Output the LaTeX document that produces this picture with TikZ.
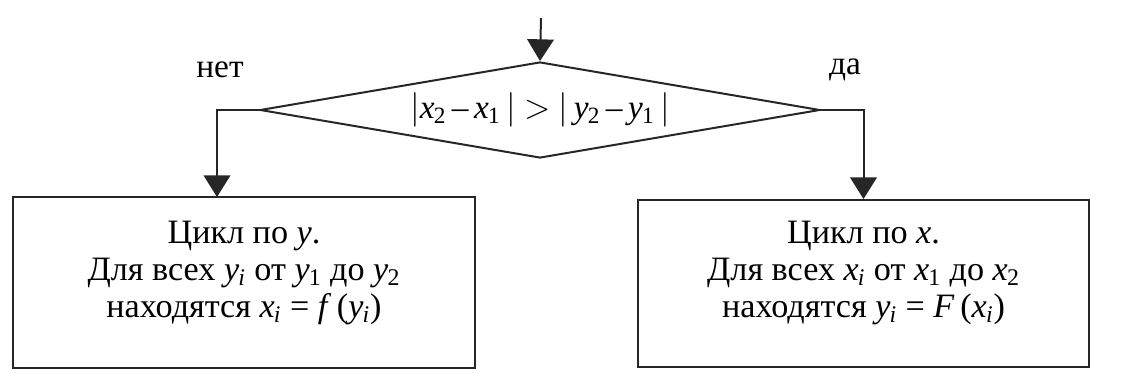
\documentclass[tikz,border=0pt]{standalone}
\usepackage{fontspec}
\setmainfont{Liberation Serif}
\usetikzlibrary{shapes.geometric,arrows.meta}
\newcommand{\vv}[2]{\textit{#1}\textsubscript{\kern-0.5pt#2}}
\begin{document}
\begin{tikzpicture}[x=0.6pt,y=-0.6pt,
  line width=1.2pt, draw=black!85,
  arr/.style={-{Triangle[width=16pt,length=13pt]}},
  box/.style={draw, rectangle, inner sep=0pt},
  txt/.style={align=center, font=\fontsize{20.5}{22}\selectfont, inner sep=0pt},
  dec/.style={draw, diamond, aspect=5.8, inner sep=0pt, minimum width=336pt, minimum height=57.6pt, font=\fontsize{20}{22}\selectfont},
  lbl/.style={font=\fontsize{20}{22}\selectfont}]
\useasboundingbox (0,0) rectangle (1136,379);
\node[dec] (d) at (540,110) {$|$\vv{x}{2}\,--\,\vv{x}{1}\,$|$ $>$ $|$\,\vv{y}{2}\,--\,\vv{y}{1}\,$|$};
\node[box, minimum width=277.2pt, minimum height=102.6pt] (lb) at (244,282.5) {};
\node[box, minimum width=270.6pt, minimum height=100.2pt] (rb) at (863.5,283.5) {};
\node[txt] (lbt) at (244,273)
  {Цикл по \textit{y}.\\Для всех \vv{y}{\itshape i} от \vv{y}{1} до \vv{y}{2}\\находятся \vv{x}{\itshape i} = \textit{f}\,(\vv{y}{\itshape i})};
\node[txt] (rbt) at (863.5,273)
  {Цикл по \textit{x}.\\Для всех \vv{x}{\itshape i} от \vv{x}{1} до \vv{x}{2}\\находятся \vv{y}{\itshape i} = \textit{F}\,(\vv{x}{\itshape i})};
\node[lbl] (no) at (220,70) {нет};
\node[lbl] (yes) at (845,70) {да};
\coordinate (start) at (541,18);
\coordinate (lt) at (217,197);
\draw[arr] (start) -- (d.north);
\draw[arr] (d.west) -| (lt);
\draw[arr] (d.east) -| (rb.north);
\end{tikzpicture}
\end{document}
